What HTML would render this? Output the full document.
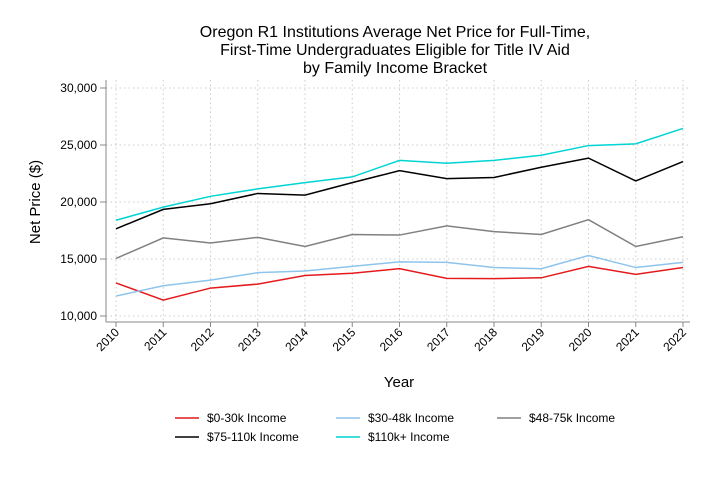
<!DOCTYPE html>
<html><head><meta charset="utf-8"><style>
body{margin:0;background:#fff;font-family:"Liberation Sans",sans-serif}
svg text{font-family:"Liberation Sans",sans-serif}
</style></head><body>
<svg id="c" width="711" height="474">
<text x="395" y="37" font-size="16" text-anchor="middle"><tspan x="395">Oregon R1 Institutions Average Net Price for Full-Time,</tspan><tspan x="395" dy="18">First-Time Undergraduates Eligible for Title IV Aid</tspan><tspan x="395" dy="18">by Family Income Bracket</tspan></text>
<text x="399" y="387" font-size="15" text-anchor="middle">Year</text>
<text transform="translate(40,202) rotate(-90)" font-size="15" text-anchor="middle">Net Price ($)</text>
<g id="grid"></g><g id="axes"></g><g id="lines"></g><g id="legend"></g>
</svg>
<script>
const years=[2010,2011,2012,2013,2014,2015,2016,2017,2018,2019,2020,2021,2022];
const yTicks=[10000,15000,20000,25000,30000];
const s0_30=[12900,11400,12450,12800,13550,13750,14150,13300,13280,13350,14350,13650,14250];
const s30_48=[11750,12650,13150,13800,13950,14350,14750,14700,14250,14150,15300,14250,14700];
const s48_75=[15050,16850,16400,16900,16100,17150,17100,17900,17400,17150,18450,16100,16950];
const s75_110=[17650,19350,19850,20750,20600,21700,22750,22050,22150,23050,23850,21850,23550];
const s110=[18400,19550,20500,21150,21700,22200,23650,23400,23650,24100,24950,25100,26450];
const series=[
 {name:"$0-30k Income",data:s0_30,color:"#e41a1c",id:"income-0-30k"},
 {name:"$30-48k Income",data:s30_48,color:"#8ec4ec",id:"income-30-48k"},
 {name:"$48-75k Income",data:s48_75,color:"#808080",id:"income-48-75k"},
 {name:"$75-110k Income",data:s75_110,color:"#000000",id:"income-75-110k"},
 {name:"$110k+ Income",data:s110,color:"#00d4d4",id:"income-110k-plus"}];
const NS="http://www.w3.org/2000/svg";
const X=y=>116+(y-years[0])*(683-116)/(years[years.length-1]-years[0]);
const Y=v=>316-(v-10000)*(316-88)/20000;
function mk(t,a,p){const e=document.createElementNS(NS,t);for(const k in a)e.setAttribute(k,a[k]);p.appendChild(e);return e;}
const g=document.getElementById('grid'),ax=document.getElementById('axes'),ln=document.getElementById('lines'),lg=document.getElementById('legend');
years.forEach(y=>{const l=mk('line',{x1:X(y),x2:X(y),y1:80,y2:322,stroke:"#ccc","stroke-dasharray":"1.5,3"},g);

mk('line',{x1:X(y),x2:X(y),y1:322,y2:327,stroke:"#888"},ax);
const t=mk('text',{x:X(y)+4,y:333,"font-size":"12","text-anchor":"end",transform:`rotate(-45 ${X(y)+4} 333)`},ax);t.textContent=y;
});
yTicks.forEach(v=>{const l=mk('line',{x1:106,x2:690,y1:Y(v),y2:Y(v),stroke:"#ccc","stroke-dasharray":"1.5,3"},g);

mk('line',{x1:100,x2:106,y1:Y(v),y2:Y(v),stroke:"#888"},ax);
const t=mk('text',{x:97,y:Y(v)+4,"font-size":"12","text-anchor":"end"},ax);t.textContent=v.toLocaleString('en-US');
});
const ya=mk('line',{x1:106,x2:106,y1:80,y2:322,stroke:"#888"},ax);
const xa=mk('line',{x1:106,x2:690,y1:322,y2:322,stroke:"#888"},ax);
series.forEach(s=>{const p=mk('polyline',{points:s.data.map((v,i)=>X(years[i])+","+Y(v)).join(" "),fill:"none",stroke:s.color,"stroke-width":"1.5"},ln);
});
const pos=[[175,418],[336,418],[497,418],[175,437],[336,437]];
series.forEach((s,i)=>{const [x,y]=pos[i];const gg=mk('g',{},lg);

mk('line',{x1:x,x2:x+24,y1:y,y2:y,stroke:s.color,"stroke-width":"1.5"},gg);
const t=mk('text',{x:x+32,y:y+4,"font-size":"12"},gg);t.textContent=s.name;});
</script>
</body></html>
